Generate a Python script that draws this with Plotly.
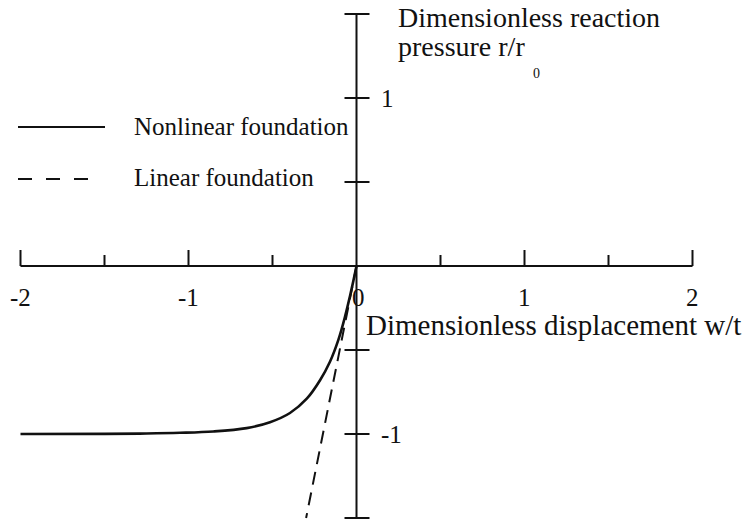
import plotly.graph_objects as go

# Dimensionless displacement w/t and reaction pressure r/r0
w_nonlinear = [-2.0, -1.5, -1.25, -1.05, -0.852, -0.654, -0.515, -0.396, -0.296,
               -0.217, -0.158, -0.108, -0.068, -0.039, -0.019, 0.0]
r_nonlinear = [-1.0, -0.999, -0.997, -0.993, -0.985, -0.965, -0.93, -0.875, -0.79,
               -0.68, -0.57, -0.44, -0.30, -0.18, -0.09, 0.0]
w_linear = [0.0, -0.30]
r_linear = [0.0, -1.5]

x_ticks = [-2, -1.5, -1, -0.5, 0, 0.5, 1, 1.5, 2]
x_tick_labels = {-2: "-2", -1: "-1", 0: "0", 1: "1", 2: "2"}
y_ticks = [-1.5, -1, -0.5, 0.5, 1, 1.5]
y_tick_labels = {1: "1", -1: "-1"}

W, H = 747, 519
X0, Y0, S = 356.5, 266.0, 168.0  # origin pixel and pixels per unit
FONT = "Liberation Serif"
INK = "#111111"


def px(x):
    return (x - X0) / S


def py(y):
    return (Y0 - y) / S


fig = go.Figure()

fig.add_trace(go.Scatter(x=w_nonlinear, y=r_nonlinear, mode="lines",
                         line=dict(color=INK, width=2.6, shape="spline", smoothing=1.0),
                         name="Nonlinear foundation", showlegend=False))
fig.add_trace(go.Scatter(x=w_linear, y=r_linear, mode="lines",
                         line=dict(color=INK, width=2, dash="13px,8px"),
                         name="Linear foundation", showlegend=False))

shapes = []
line_style = dict(color=INK, width=2)
# axes
shapes.append(dict(type="line", x0=-2, x1=2, y0=0, y1=0, line=line_style))
shapes.append(dict(type="line", x0=0, x1=0, y0=-1.5, y1=1.5, line=line_style))
# x ticks: longer at integers, shorter at halves
for t in x_ticks:
    if t == 0:
        continue
    h = 16 if float(t).is_integer() else 11
    shapes.append(dict(type="line", x0=t, x1=t, y0=0, y1=h / S, line=line_style))
# y ticks crossing the axis
for t in y_ticks:
    shapes.append(dict(type="line", x0=-12 / S, x1=13 / S, y0=t, y1=t, line=line_style))

# legend samples
shapes.append(dict(type="line", x0=px(18), x1=px(105), y0=py(127), y1=py(127),
                   line=dict(color=INK, width=2)))
shapes.append(dict(type="line", x0=px(18), x1=px(88), y0=py(179), y1=py(179),
                   line=dict(color=INK, width=2, dash="14px,14px")))

annotations = []
for t, s in x_tick_labels.items():
    annotations.append(dict(x=t + (0.01 if t == 0 else 0), y=py(297), text=s, showarrow=False,
                            xanchor="center", yanchor="middle",
                            font=dict(family=FONT, size=25, color=INK)))
for t, s in y_tick_labels.items():
    annotations.append(dict(x=px(379), y=t, text=s, showarrow=False,
                            xanchor="left", yanchor="middle",
                            font=dict(family=FONT, size=25, color=INK)))

annotations.append(dict(x=px(364), y=py(325), text="Dimensionless displacement w/t",
                        showarrow=False, xanchor="left", yanchor="middle",
                        font=dict(family=FONT, size=29, color=INK)))
annotations.append(dict(x=px(396), y=py(17), text="Dimensionless reaction",
                        showarrow=False, xanchor="left", yanchor="middle",
                        font=dict(family=FONT, size=28, color=INK)))
annotations.append(dict(x=px(396), y=py(46), text="pressure r/r",
                        showarrow=False, xanchor="left", yanchor="middle",
                        font=dict(family=FONT, size=28, color=INK)))
annotations.append(dict(x=px(536), y=py(73), text="0",
                        showarrow=False, xanchor="center", yanchor="middle",
                        font=dict(family=FONT, size=14, color=INK)))

annotations.append(dict(x=px(132), y=py(126), text="Nonlinear foundation",
                        showarrow=False, xanchor="left", yanchor="middle",
                        font=dict(family=FONT, size=25, color=INK)))
annotations.append(dict(x=px(132), y=py(177), text="Linear foundation",
                        showarrow=False, xanchor="left", yanchor="middle",
                        font=dict(family=FONT, size=25, color=INK)))

fig.update_layout(
    width=W, height=H,
    margin=dict(l=0, r=0, t=0, b=0),
    paper_bgcolor="white", plot_bgcolor="white",
    xaxis=dict(range=[px(0), px(W)], visible=False, fixedrange=True),
    yaxis=dict(range=[py(H), py(0)], visible=False, fixedrange=True),
    shapes=shapes, annotations=annotations, showlegend=False,
)

fig.write_html("out.html")
